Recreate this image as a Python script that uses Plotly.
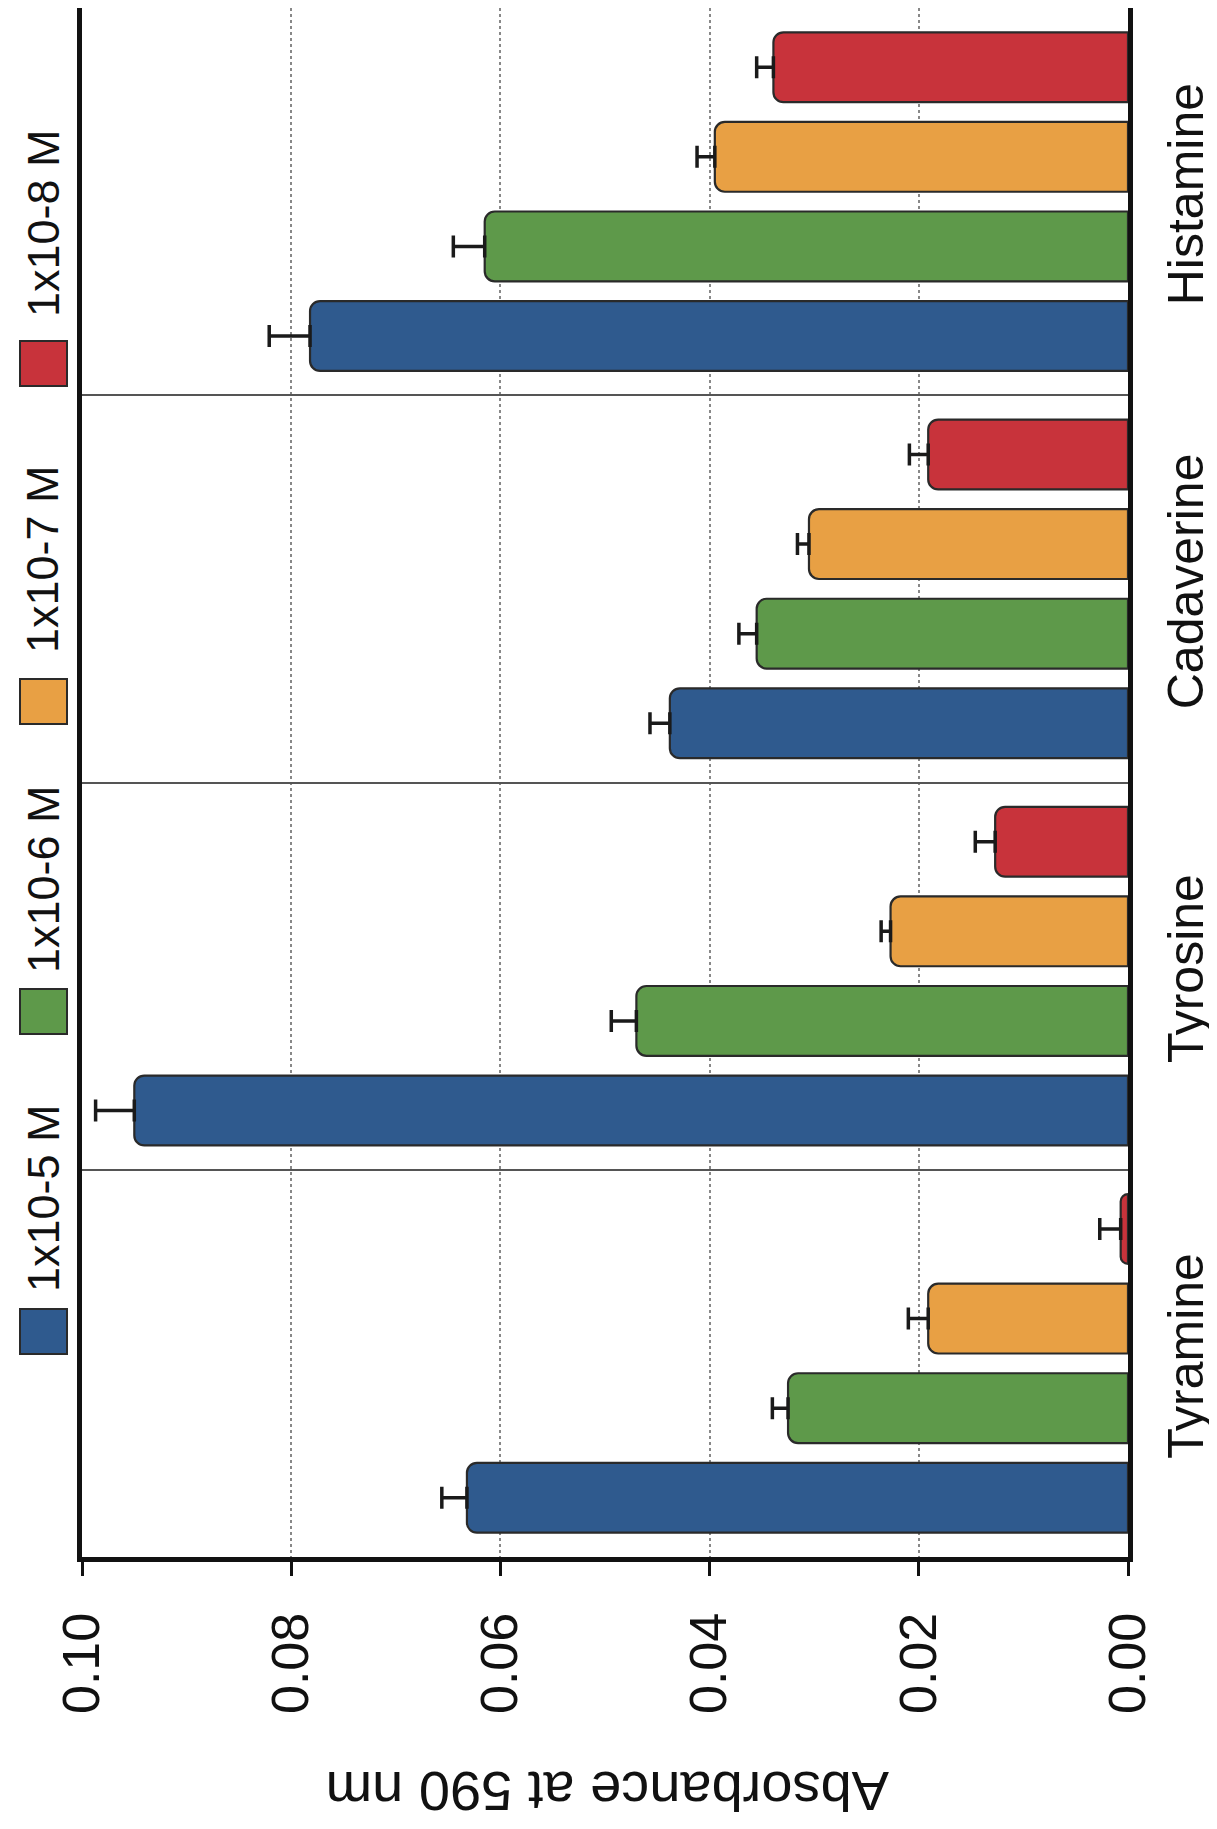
import plotly.graph_objects as go

categories = ["Tyramine", "Tyrosine", "Cadaverine", "Histamine"]
series_names = ["1x10-5 M", "1x10-6 M", "1x10-7 M", "1x10-8 M"]
colors = ["#2F5A8E", "#5E994A", "#E8A044", "#C8333B"]

v_1e5 = [0.0632, 0.0950, 0.0438, 0.0782]
v_1e6 = [0.0325, 0.0470, 0.0355, 0.0615]
v_1e7 = [0.0191, 0.0227, 0.0305, 0.0395]
v_1e8 = [0.0007, 0.0127, 0.0191, 0.0339]

e_1e5 = [0.0024, 0.0037, 0.0019, 0.0039]
e_1e6 = [0.0015, 0.0024, 0.0017, 0.0030]
e_1e7 = [0.0019, 0.0009, 0.0011, 0.0017]
e_1e8 = [0.0020, 0.0019, 0.0018, 0.0016]

values = [v_1e5, v_1e6, v_1e7, v_1e8]
errors = [e_1e5, e_1e6, e_1e7, e_1e8]

x_ticks = [0.0, 0.02, 0.04, 0.06, 0.08, 0.10]
x_title = "Absorbance at 590 nm"

FONT = "Liberation Sans, Arial, Helvetica, sans-serif"

fig = go.Figure()
for name, col, vals, errs in zip(series_names, colors, values, errors):
    fig.add_trace(go.Bar(
        y=categories, x=vals, name=name, orientation="h",
        marker=dict(color=col, line=dict(color="#2a2a2a", width=2.2), cornerradius=10),
        error_x=dict(type="data", array=errs, arrayminus=[0] * len(errs), symmetric=False,
                     color="#1a1a1a", thickness=3.5, width=11),
        showlegend=False,
    ))

# page body has an 8px margin: figure is placed at (8, 8) in the window
OFF = 8
W, H = 1217 - OFF, 1829 - OFF
L, R, T, B = 82 - OFF, 89, 0, 272
pw, ph = W - L - R, H - T - B

def px_x(x):  # window pixel -> paper
    return (x - OFF - L) / pw

def px_y(y):
    return (H - B - (y - OFF)) / ph

annotations = []
shapes = []
# legend (rotated) : swatch + label, stacked bottom-to-top
sw_tops = [1309, 989, 679, 341]
txt_centers = [1198, 879, 559, 223]
for name, col, top, tc in zip(series_names, colors, sw_tops, txt_centers):
    shapes.append(dict(type="rect", xref="paper", yref="paper",
                       x0=px_x(20), x1=px_x(67), y0=px_y(top + 45), y1=px_y(top),
                       fillcolor=col, line=dict(color="#2a2a2a", width=2)))
    annotations.append(dict(text=name, xref="paper", yref="paper",
                            x=px_x(43), y=px_y(tc), xanchor="center", yanchor="middle",
                            showarrow=False, textangle=-90,
                            font=dict(family=FONT, size=45, color="#111")))

annotations.append(dict(text=x_title, xref="paper", yref="paper",
                        x=px_x(608), y=px_y(1792), xanchor="center", yanchor="middle",
                        showarrow=False, textangle=180,
                        font=dict(family=FONT, size=56, color="#111")))

fig.update_layout(
    width=W, height=H,
    margin=dict(l=L, r=R, t=T, b=B, autoexpand=False),
    paper_bgcolor="white", plot_bgcolor="white",
    barmode="group", bargap=0.075, bargroupgap=0.22,
    font=dict(family=FONT, color="#111"),
    shapes=shapes, annotations=annotations,
    xaxis=dict(
        range=[0.1, 0.0], tickvals=x_ticks, tickformat=".2f",
        tickangle=-90, tickfont=dict(size=52, family=FONT, color="#111"),
        ticks="outside", ticklen=14, tickwidth=3, tickcolor="#111",
        ticklabelstandoff=16, automargin=False,
        showline=True, linecolor="#111", linewidth=5, mirror=True,
        showgrid=True, gridcolor="#888", gridwidth=1.5, griddash="dot",
        zeroline=False,
    ),
    yaxis=dict(
        categoryorder="array", categoryarray=categories,
        side="right", tickangle=-90,
        tickfont=dict(size=50, family=FONT, color="#111"),
        tickson="boundaries", ticks="", ticklabelstandoff=10, automargin=False,
        showline=True, linecolor="#111", linewidth=5, mirror=True,
        showgrid=True, gridcolor="#555", gridwidth=2,
        zeroline=False,
    ),
)

fig.write_html("out.html")
